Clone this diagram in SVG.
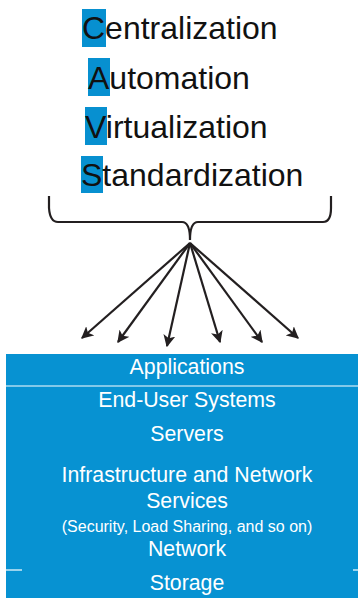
<svg xmlns="http://www.w3.org/2000/svg" width="359" height="598" viewBox="0 0 359 598">
<style>
.big{font-family:"Liberation Sans",Arial,sans-serif;font-size:32px;fill:#111}
.hl{fill:#0790d0}
.layer{font-family:"Liberation Sans",Arial,sans-serif;font-size:21.3px;fill:#fff;text-anchor:middle}
.small{font-family:"Liberation Sans",Arial,sans-serif;font-size:16px;fill:#fff;text-anchor:middle}
.ln{fill:none;stroke:#231f20;stroke-width:2.2}
</style>
<defs>
<marker id="ah" viewBox="0 0 10 10" refX="9" refY="5" markerWidth="5.5" markerHeight="5.5" orient="auto" markerUnits="strokeWidth">
<path d="M0,0 L10,5 L0,10 L2.5,5 Z" fill="#231f20"/>
</marker>
</defs>
<g id="terms">
<rect class="hl" x="82" y="9" width="24" height="38"/>
<text class="big" x="82" y="39">Centralization</text>
<rect class="hl" x="88" y="58" width="22" height="38"/>
<text class="big" x="88" y="89">Automation</text>
<rect class="hl" x="85" y="107" width="22" height="38"/>
<text class="big" x="85" y="138">Virtualization</text>
<rect class="hl" x="81" y="156" width="22" height="37"/>
<text class="big" x="81" y="186">Standardization</text>
</g>
<g id="brace">
<path class="ln" d="M49,196 V208 Q50,222 58,222 H182 Q190,222 190,240 Q190,222 198,222 H323 Q331,222 331,208 V196"/>
</g>
<g id="connectors">
<line class="ln" x1="190" y1="243" x2="82" y2="338" marker-end="url(#ah)"/>
<line class="ln" x1="190" y1="243" x2="118" y2="342" marker-end="url(#ah)"/>
<line class="ln" x1="190" y1="243" x2="167" y2="346" marker-end="url(#ah)"/>
<line class="ln" x1="190" y1="243" x2="220" y2="342" marker-end="url(#ah)"/>
<line class="ln" x1="190" y1="243" x2="262" y2="342" marker-end="url(#ah)"/>
<line class="ln" x1="190" y1="243" x2="298" y2="338" marker-end="url(#ah)"/>
</g>
<g id="stack">
<rect x="6" y="354" width="352" height="244" fill="#0792d2"/>
<line x1="6" y1="386" x2="358" y2="386" stroke="#fff" stroke-width="1.2"/>
<line x1="6" y1="570" x2="22" y2="570" stroke="#fff" stroke-width="1.2"/>
<line x1="353" y1="570" x2="358" y2="570" stroke="#fff" stroke-width="1.2"/>
<text class="layer" x="187" y="374">Applications</text>
<text class="layer" x="187" y="407">End-User Systems</text>
<text class="layer" x="187" y="441">Servers</text>
<text class="layer" x="187" y="482">Infrastructure and Network</text>
<text class="layer" x="187" y="508">Services</text>
<text class="small" x="187" y="532">(Security, Load Sharing, and so on)</text>
<text class="layer" x="187" y="556">Network</text>
<text class="layer" x="187" y="590">Storage</text>
</g>
</svg>
